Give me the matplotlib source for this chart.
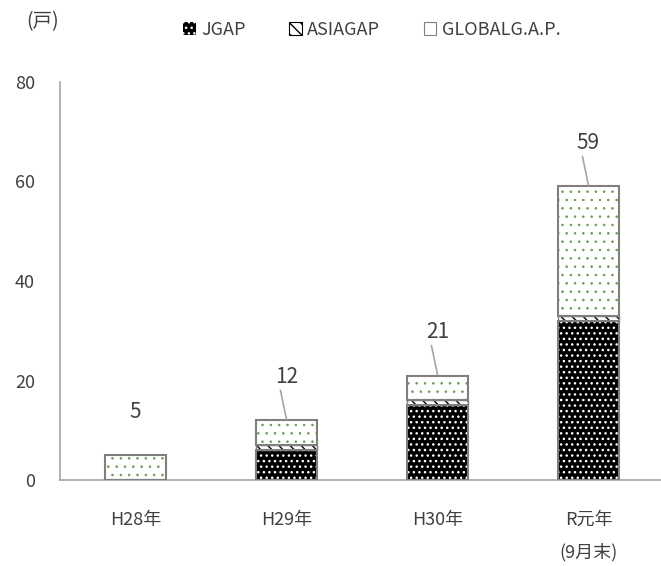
import matplotlib
matplotlib.use('Agg')
import matplotlib.pyplot as plt
from matplotlib.patches import Patch
import numpy as np

plt.rcParams['font.family'] = ['Noto Sans CJK JP', 'DejaVu Sans']

# ── data ──
years = ['H28年', 'H29年', 'H30年', 'R元年\n(9月末)']
jgap = [0, 6, 15, 32]
asiagap = [0, 1, 1, 1]
globalgap = [5, 5, 5, 26]
totals = [a + b + c for a, b, c in zip(jgap, asiagap, globalgap)]

x = np.arange(len(years))
W, H = 661, 566
fig = plt.figure(figsize=(W / 100, H / 100), dpi=100)
ax = fig.add_axes([60 / W, 86 / H, 601 / W, 398 / H])

bw = 0.41
text_c = '#404040'
edge_c = '#7f7f7f'
bottoms2 = np.array(jgap) + np.array(asiagap)

# hatched fills
plt.rcParams['hatch.linewidth'] = 1.0
ax.bar(x, jgap, bw, color='black', edgecolor='white', hatch='...', linewidth=0, zorder=2)
ax.bar(x, asiagap, bw, bottom=jgap, color='white', edgecolor='black', hatch='\\\\\\', linewidth=0, zorder=2)
plt.rcParams['hatch.linewidth'] = 0.6
ax.bar(x, globalgap, bw, bottom=bottoms2, color='white', edgecolor='#6b9a4f', hatch='..', linewidth=0, zorder=2)
# outlines
ax.bar(x, jgap, bw, fill=False, edgecolor=edge_c, linewidth=1.5, zorder=3)
ax.bar(x, asiagap, bw, bottom=jgap, fill=False, edgecolor=edge_c, linewidth=1.0, zorder=3)
ax.bar(x, globalgap, bw, bottom=bottoms2, fill=False, edgecolor=edge_c, linewidth=1.5, zorder=3)

# totals with leader lines
for i, t in enumerate(totals):
    ax.text(x[i], t + 8.7, str(t), ha='center', va='center', fontsize=15, color=text_c)
    if i > 0:
        ax.plot([x[i] - 0.04, x[i]], [t + 6.0, t + 0.2], color='#a6a6a6', linewidth=1.2, zorder=4)

ax.set_xlim(-0.5, 3.48)
ax.set_ylim(0, 80)
ax.set_yticks([0, 20, 40, 60, 80])
ax.set_xticks(x)
ax.set_xticklabels(years, fontsize=13, color=text_c, linespacing=2.0)
ax.tick_params(axis='y', labelsize=13, labelcolor=text_c, length=0, pad=18)
ax.tick_params(axis='x', length=0, pad=22)

for s in ['top', 'right']:
    ax.spines[s].set_visible(False)
ax.spines['left'].set_color('#a6a6a6')
ax.spines['bottom'].set_color('#a6a6a6')
ax.spines['left'].set_linewidth(1.2)
ax.spines['bottom'].set_linewidth(1.2)

fig.text(26 / W, 1 - 22 / H, '(戸)', fontsize=14, color=text_c, va='center', ha='left')

plt.rcParams['hatch.linewidth'] = 1.0
handles = [
    Patch(facecolor='black', edgecolor='white', hatch='...', linewidth=0),
    Patch(facecolor='white', edgecolor='black', hatch='\\\\\\', linewidth=0.8),
    Patch(facecolor='white', edgecolor=edge_c, linewidth=0.8),
]
fig.legend(handles, ['JGAP', 'ASIAGAP', 'GLOBALG.A.P.'], loc='center',
           bbox_to_anchor=(372 / W, 1 - 30 / H), ncol=3, frameon=False,
           fontsize=13, labelcolor=text_c, handlelength=0.7, handleheight=0.7,
           handletextpad=0.3, columnspacing=2.4)

fig.savefig('out.png', dpi=100, facecolor='white')
